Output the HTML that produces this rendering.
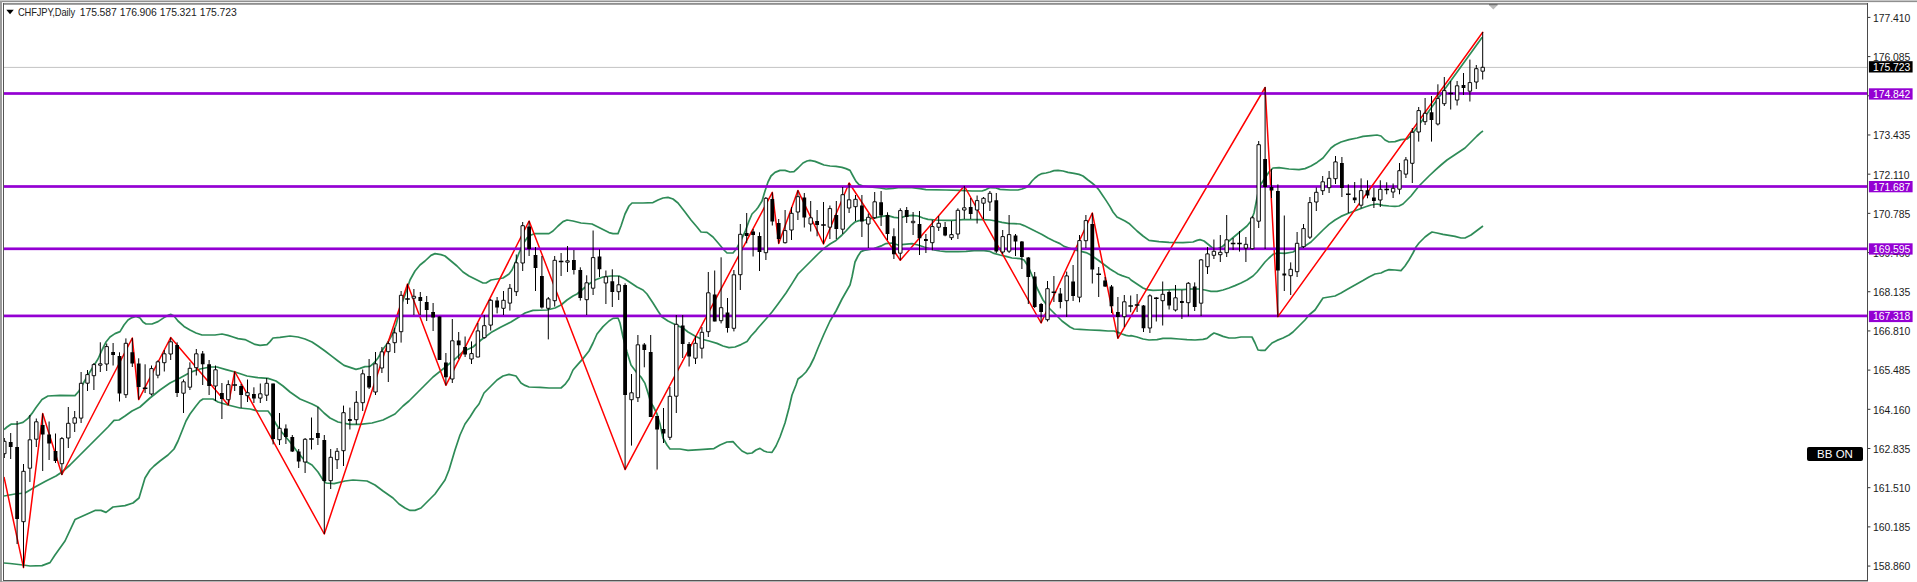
<!DOCTYPE html>
<html><head><meta charset="utf-8"><title>CHFJPY,Daily</title>
<style>
html,body{margin:0;padding:0;background:#fff;}
body{width:1917px;height:582px;position:relative;overflow:hidden;font-family:"Liberation Sans",sans-serif;font-size:10px;color:#000;}
.a{position:absolute;}
.t{position:absolute;left:1873px;font-size:10.4px;line-height:12px;height:12px;white-space:nowrap;letter-spacing:-0.06px;color:#1c1c1c;}
.pl{position:absolute;left:1869px;width:44px;height:11px;color:#fff;font-size:10.4px;line-height:12px;text-indent:4px;white-space:nowrap;letter-spacing:-0.06px;}
</style></head><body>
<!-- frame -->
<div class="a" style="left:0;top:0;width:1917px;height:1px;background:#c6c6c6"></div>
<div class="a" style="left:0;top:1px;width:1917px;height:1px;background:#8f8f8f"></div>
<div class="a" style="left:0;top:2px;width:1917px;height:1px;background:#f1f1f1"></div>
<div class="a" style="left:0;top:1px;width:2px;height:581px;background:#9b9b9b"></div>
<div class="a" style="left:3px;top:3px;width:1865px;height:1px;background:#8e8e8e"></div>
<div class="a" style="left:3px;top:4px;width:1865px;height:1px;background:#a4a4a4"></div>
<div class="a" style="left:3px;top:3px;width:1px;height:578px;background:#555"></div>
<div class="a" style="left:3px;top:580px;width:1865px;height:1px;background:#555"></div>
<div class="a" style="left:2px;top:581px;width:1866px;height:1px;background:#b4b4b4"></div>
<div class="a" style="left:1867px;top:3px;width:1px;height:578px;background:#4a4a4a"></div>

<svg width="1917" height="582" viewBox="0 0 1917 582" style="position:absolute;left:0;top:0">
<defs><clipPath id="cp"><rect x="4" y="5" width="1863" height="575"/></clipPath></defs>
<g clip-path="url(#cp)">
<rect x="4" y="66.9" width="1863" height="1" fill="#c4c4c4"/>
<polyline fill="none" stroke="#2e8b57" stroke-width="1.7" stroke-linejoin="round" points="4.0,429.5 7.0,427.0 11.0,424.2 18.0,423.8 23.0,422.4 28.0,418.4 32.0,413.4 36.0,407.5 42.0,399.5 48.0,396.0 60.0,395.4 75.0,395.6 79.0,391.0 84.0,382.0 88.0,375.0 93.0,367.0 98.0,359.0 102.0,350.0 106.0,342.0 110.0,337.0 115.0,333.6 120.0,331.6 124.0,325.0 128.0,320.0 132.0,317.6 136.0,316.4 140.0,318.0 143.0,322.0 146.0,324.0 152.0,324.0 158.0,321.6 164.0,317.6 168.0,315.4 171.0,314.4 174.0,316.0 178.0,321.0 184.0,326.4 190.0,330.0 196.0,333.0 202.0,335.0 215.0,335.0 222.0,334.0 228.0,335.4 233.0,337.0 238.0,338.6 245.0,339.6 250.0,342.0 255.0,344.4 260.0,345.4 267.0,344.6 270.0,341.6 273.0,338.0 280.0,337.4 290.0,336.0 298.0,337.0 305.0,339.0 312.0,342.0 318.0,346.0 325.0,351.0 332.0,356.4 338.0,361.0 344.0,365.4 350.0,367.4 356.0,369.4 360.0,368.4 365.0,366.6 370.0,366.4 374.0,363.0 378.0,358.0 381.0,353.0 383.0,349.0 386.0,345.4 392.0,335.0 396.0,325.0 399.0,313.0 402.0,303.0 405.0,295.0 407.0,289.0 410.0,280.0 415.0,271.0 420.0,265.0 425.0,261.0 431.0,255.4 435.0,253.6 441.0,254.6 445.0,256.0 451.0,261.0 457.0,266.0 463.0,272.0 469.0,276.0 477.0,280.0 483.0,283.0 486.0,283.0 491.0,280.0 497.0,279.0 503.0,278.0 509.0,274.0 512.0,270.0 516.0,261.0 519.0,253.0 523.0,244.0 527.0,238.0 531.0,235.0 535.0,233.6 549.0,233.6 553.0,231.0 558.0,226.0 563.0,221.6 567.0,220.0 573.0,221.0 581.0,223.0 592.0,224.0 597.0,226.6 603.0,229.6 609.0,232.6 613.0,233.6 618.0,233.6 621.0,226.0 625.0,214.0 629.0,206.0 632.0,203.0 643.0,203.0 653.0,202.6 658.0,200.0 663.0,198.0 668.0,197.4 673.0,199.0 678.0,203.0 685.0,212.0 691.0,220.0 697.0,227.0 701.0,232.0 707.0,232.4 713.0,237.0 719.0,244.0 724.0,250.0 727.0,253.0 733.0,253.0 737.0,248.0 741.0,240.0 745.0,232.0 749.0,221.0 752.0,214.0 756.0,210.0 758.0,207.5 762.0,201.0 765.0,191.0 768.0,182.0 771.0,176.0 775.0,172.4 780.0,170.4 785.0,170.4 790.0,172.0 794.0,171.6 798.0,168.0 803.0,163.0 807.0,161.0 810.0,160.4 815.0,161.4 820.0,163.4 824.0,165.0 830.0,166.0 836.0,166.4 842.0,167.4 846.0,168.6 850.0,170.4 853.0,176.0 856.0,181.4 859.0,184.6 863.0,186.0 870.0,187.0 880.0,188.0 886.0,189.0 893.0,188.4 900.0,187.4 912.0,187.6 920.0,188.6 926.0,189.6 946.0,190.0 960.0,190.4 972.0,191.0 982.0,191.0 986.0,189.6 990.0,187.6 996.0,188.0 1000.0,189.4 1010.0,190.0 1018.0,190.0 1022.0,189.0 1026.0,187.4 1029.0,185.0 1032.0,181.0 1035.0,178.0 1038.0,175.6 1042.0,173.6 1046.0,173.0 1050.0,172.0 1054.0,170.6 1058.0,170.4 1063.0,171.0 1068.0,172.4 1074.0,173.4 1079.0,174.4 1083.0,176.0 1088.0,180.0 1092.0,183.0 1096.0,186.4 1099.0,190.0 1102.0,194.4 1106.0,200.4 1110.0,206.6 1113.0,212.0 1117.0,217.0 1121.0,219.0 1125.0,221.0 1129.0,223.4 1137.0,231.0 1143.0,236.0 1149.0,240.4 1159.0,241.6 1169.0,242.4 1183.0,242.6 1193.0,242.0 1197.0,240.4 1200.0,239.6 1204.0,241.0 1209.0,245.0 1213.0,248.5 1217.0,249.0 1221.0,247.4 1223.0,246.0 1229.0,241.0 1235.0,236.0 1241.0,231.0 1247.0,226.0 1251.0,221.0 1254.0,213.0 1256.0,203.0 1258.0,193.0 1261.0,184.0 1265.0,178.0 1269.0,172.0 1273.0,168.0 1279.0,167.6 1289.0,169.0 1299.0,169.6 1305.0,168.6 1311.0,166.0 1317.0,162.4 1323.0,158.0 1327.0,153.0 1331.0,148.0 1335.0,145.0 1341.0,142.0 1349.0,139.6 1357.0,138.0 1363.0,136.4 1371.0,135.6 1377.0,135.0 1381.0,136.0 1385.0,140.0 1389.0,142.0 1395.0,141.6 1401.0,139.6 1407.0,139.0 1411.0,135.5 1414.0,131.5 1416.7,128.0 1482.2,37.2"/>
<polyline fill="none" stroke="#2e8b57" stroke-width="1.7" stroke-linejoin="round" points="4.0,496.0 15.0,494.0 25.0,493.0 35.0,487.0 46.0,481.0 56.0,476.0 62.0,472.0 70.0,465.0 80.0,455.0 90.0,445.0 100.0,435.0 108.0,427.0 114.0,420.4 119.0,420.0 125.0,416.0 132.0,411.0 140.0,407.0 150.0,398.0 160.0,390.0 170.0,383.0 180.0,378.0 190.0,372.4 200.0,369.0 210.0,367.0 217.0,367.0 226.0,369.6 235.0,372.0 247.0,376.0 258.0,377.6 268.0,378.4 276.0,381.0 283.0,386.0 290.0,392.0 300.0,399.0 312.0,404.0 318.0,407.0 324.0,413.0 330.0,418.0 338.0,422.0 350.0,424.4 360.0,424.4 372.0,423.0 383.0,420.0 395.0,414.0 403.0,406.0 409.0,401.0 421.0,389.0 433.0,377.0 445.0,367.4 455.0,359.0 463.0,351.6 473.0,347.0 481.0,340.0 491.0,332.6 501.0,327.0 511.0,322.0 519.0,317.0 525.0,313.0 533.0,310.4 547.0,310.0 555.0,308.0 561.0,305.0 567.0,300.0 573.0,296.0 577.0,294.0 583.0,289.0 589.0,284.0 595.0,280.0 603.0,277.0 611.0,276.0 619.0,276.0 625.0,279.0 631.0,283.0 637.0,287.0 643.0,290.0 647.0,294.0 651.0,300.0 653.0,303.0 658.0,311.0 662.0,317.0 668.0,321.0 675.0,324.6 683.0,328.0 688.0,332.0 695.0,336.0 701.0,339.0 709.0,341.0 717.0,343.4 723.0,346.0 729.0,347.6 735.0,347.0 741.0,344.6 747.0,341.6 751.0,336.0 756.0,330.6 758.0,328.0 766.0,319.0 772.0,312.0 778.0,304.0 786.0,293.0 792.0,283.6 798.0,274.0 804.0,268.0 812.0,260.0 818.0,254.0 824.0,248.4 830.0,244.0 836.0,240.4 842.0,235.0 846.0,231.0 851.0,225.4 855.0,222.0 859.0,220.6 865.0,220.0 870.0,218.6 876.0,217.6 882.0,216.4 888.0,215.6 894.0,217.4 900.0,218.0 906.0,216.0 912.0,215.4 918.0,216.0 923.0,218.0 928.0,219.4 936.0,220.0 946.0,220.4 952.0,220.4 958.0,220.0 963.0,219.6 972.0,219.6 982.0,219.6 990.0,220.0 996.0,221.0 1002.0,222.4 1008.0,223.4 1014.0,223.6 1020.0,224.0 1024.0,225.6 1030.0,228.4 1036.0,231.6 1042.0,234.4 1048.0,238.0 1054.0,241.0 1060.0,243.6 1064.0,246.4 1069.0,248.0 1075.0,250.0 1081.0,251.4 1086.0,252.6 1090.0,254.6 1094.0,257.3 1098.0,260.0 1102.0,263.0 1106.0,266.0 1110.0,269.0 1114.0,271.4 1118.0,274.0 1122.0,275.6 1126.0,277.0 1129.0,278.0 1131.0,280.0 1137.0,284.0 1143.0,288.0 1147.0,289.6 1153.0,290.4 1163.0,290.0 1173.0,289.6 1183.0,289.6 1191.0,289.0 1199.0,289.0 1205.0,290.0 1211.0,291.4 1217.0,291.4 1223.0,290.0 1229.0,288.0 1235.0,285.6 1241.0,283.0 1247.0,280.0 1253.0,276.0 1257.0,272.0 1261.0,267.0 1265.0,262.0 1269.0,258.0 1273.0,254.4 1277.0,253.0 1285.0,253.4 1293.0,252.0 1297.0,249.4 1301.0,247.6 1305.0,246.0 1311.0,242.0 1317.0,236.0 1323.0,230.0 1329.0,224.4 1335.0,220.0 1341.0,216.4 1349.0,213.0 1357.0,210.0 1365.0,207.0 1371.0,205.0 1377.0,204.0 1383.0,205.4 1389.0,206.0 1395.0,206.4 1399.0,206.0 1403.0,204.0 1407.0,200.0 1411.0,196.0 1415.0,191.0 1419.0,186.0 1423.0,182.0 1429.0,176.0 1435.0,170.4 1441.0,165.0 1447.0,160.0 1453.0,156.0 1459.0,152.0 1465.0,148.0 1469.0,144.0 1473.0,140.0 1477.0,136.0 1481.0,132.4 1483.0,131.0"/>
<polyline fill="none" stroke="#2e8b57" stroke-width="1.7" stroke-linejoin="round" points="4.0,563.0 10.0,563.5 23.0,565.0 30.0,566.0 42.0,565.6 50.0,562.6 55.0,555.0 65.0,541.0 75.0,519.6 85.0,515.0 95.0,510.4 101.0,510.4 106.0,512.4 113.0,507.0 125.0,505.6 133.0,503.0 139.0,498.0 145.0,478.0 150.0,470.0 154.0,466.0 160.0,461.0 168.0,455.0 174.0,449.0 178.0,441.0 182.0,431.0 186.0,421.0 190.0,414.0 196.0,406.0 200.0,401.0 203.0,399.0 213.0,399.0 218.0,402.0 228.0,405.0 240.0,408.0 250.0,409.0 258.0,411.0 268.0,411.0 271.0,415.0 276.0,424.0 280.0,430.0 285.0,436.0 290.0,442.0 296.0,450.0 300.0,455.0 305.0,461.0 312.0,465.0 318.0,472.0 322.0,478.4 326.0,483.0 334.0,483.6 345.0,481.0 353.0,480.0 367.0,481.0 375.0,485.0 383.0,491.0 393.0,498.0 399.0,504.0 405.0,508.0 410.0,510.4 415.0,510.4 421.0,508.0 427.0,502.0 435.0,494.0 445.0,480.0 449.0,470.0 455.0,450.0 460.0,435.0 465.0,424.0 470.0,417.0 475.0,409.0 479.0,404.0 484.0,393.0 491.0,386.0 497.0,380.0 503.0,376.0 509.0,374.4 516.0,376.0 521.0,383.0 525.0,385.4 529.0,387.0 540.0,387.4 549.0,388.0 561.0,388.0 565.0,384.4 569.0,379.0 573.0,370.0 577.0,365.4 583.0,358.6 589.0,351.0 593.0,343.0 597.0,334.0 603.0,326.6 609.0,321.0 613.0,318.4 618.0,318.0 620.0,323.0 623.0,337.0 627.0,352.0 631.0,365.0 637.0,373.0 641.0,377.0 645.0,383.4 648.0,393.0 651.0,403.0 653.0,406.0 657.0,414.0 660.0,424.0 663.0,438.0 667.0,445.0 670.0,449.0 680.0,449.0 688.0,450.4 700.0,449.6 714.0,448.6 720.0,445.0 727.0,442.0 733.0,441.6 737.0,446.0 742.0,451.0 747.0,453.6 752.0,453.0 756.0,450.0 760.0,448.4 764.0,451.0 767.0,452.0 772.0,452.4 776.0,446.0 780.0,437.0 785.0,423.0 789.0,408.0 792.0,395.0 796.0,385.0 798.0,379.0 802.0,376.0 806.0,372.0 810.0,366.0 814.0,358.0 818.0,348.0 824.0,334.0 830.0,321.0 836.0,311.0 842.0,299.0 846.0,292.0 850.0,285.0 852.0,277.0 854.0,267.0 855.0,262.0 858.0,256.0 861.0,251.6 864.0,250.4 874.0,248.6 882.0,245.6 886.0,243.6 892.0,243.0 898.0,245.0 904.0,244.4 912.0,243.6 918.0,245.0 924.0,247.0 934.0,250.0 940.0,251.0 946.0,251.6 958.0,251.6 966.0,251.4 974.0,250.6 984.0,250.6 990.0,251.4 994.0,253.4 1000.0,255.0 1006.0,256.4 1012.0,258.0 1020.0,258.6 1024.0,260.0 1028.0,266.0 1031.0,273.0 1034.0,280.0 1037.0,288.0 1040.0,294.0 1043.0,300.0 1046.0,304.0 1050.0,309.0 1054.0,313.0 1058.0,317.0 1062.0,321.0 1066.0,324.0 1070.0,327.0 1074.0,329.0 1080.0,329.4 1090.0,330.0 1100.0,330.4 1108.0,331.0 1114.0,331.0 1118.0,332.4 1122.0,334.0 1126.0,335.4 1129.0,336.0 1131.0,335.6 1137.0,337.0 1143.0,339.0 1149.0,340.0 1157.0,339.6 1163.0,338.4 1171.0,338.4 1179.0,339.0 1187.0,339.6 1195.0,340.0 1203.0,339.4 1207.0,338.4 1211.0,335.0 1214.0,333.0 1218.0,334.4 1223.0,336.4 1229.0,338.0 1235.0,338.0 1241.0,337.0 1247.0,337.0 1252.0,337.0 1255.0,343.0 1258.0,350.0 1261.0,350.4 1265.0,350.4 1269.0,346.0 1272.0,343.0 1277.0,340.4 1283.0,338.0 1289.0,335.0 1293.0,332.0 1299.0,326.0 1305.0,320.0 1309.0,315.0 1315.0,310.0 1319.0,304.0 1323.0,298.0 1329.0,297.0 1335.0,296.0 1341.0,293.0 1347.0,289.6 1355.0,285.0 1363.0,280.6 1369.0,277.0 1375.0,274.0 1381.0,273.0 1385.0,271.0 1389.0,269.6 1395.0,270.0 1401.0,270.6 1405.0,266.0 1409.0,260.0 1413.0,253.0 1416.0,247.0 1419.0,243.0 1421.0,241.0 1425.0,237.0 1429.0,234.0 1432.0,232.0 1437.0,233.0 1443.0,234.4 1449.0,235.4 1455.0,236.4 1461.0,238.0 1465.0,238.0 1471.0,235.0 1475.0,232.0 1479.0,229.0 1483.0,226.0"/>
<polyline fill="none" stroke="#ff0000" stroke-width="1.5" stroke-linejoin="round" points="4.0,477.0 23.5,567.6 42.7,413.5 61.9,474.5 132.3,338.0 138.7,399.6 170.7,337.5 228.3,405.0 234.7,371.5 324.3,534.0 407.5,284.0 445.9,385.3 529.1,221.0 625.1,469.6 772.3,192.4 778.7,243.5 797.9,190.4 823.5,244.0 849.1,183.0 900.3,260.3 964.3,186.0 1041.1,323.0 1092.3,213.0 1117.9,338.3 1265.1,87.5 1277.9,316.6"/>
<rect x="4" y="92.15" width="1864" height="2.7" fill="#9400d3"/>
<rect x="4" y="185.15" width="1864" height="2.7" fill="#9400d3"/>
<rect x="4" y="247.45" width="1864" height="2.7" fill="#9400d3"/>
<rect x="4" y="314.55" width="1864" height="2.7" fill="#9400d3"/>
<polyline fill="none" stroke="#ff0000" stroke-width="1.5" stroke-linecap="round" points="1277.9,316.6 1482.7,32.3"/>
<path d="M4.3 438.0V458.0M10.7 433.0V459.0M17.1 421.0V544.0M23.5 464.0V567.6M29.9 415.0V482.0M36.3 418.5V447.0M42.7 413.5V471.0M49.1 421.5V460.0M55.5 433.5V463.0M61.9 437.0V475.0M68.3 407.0V448.0M74.7 411.0V432.0M81.1 372.0V423.0M87.5 370.0V391.0M93.9 363.0V390.0M100.3 342.3V372.0M106.7 343.5V371.0M113.1 343.0V365.5M119.5 352.3V401.5M125.9 338.4V398.0M132.3 338.0V367.0M138.7 358.3V399.5M145.1 364.3V393.0M151.5 365.5V395.5M157.9 360.3V378.3M164.3 350.0V371.5M170.7 337.5V360.0M177.1 342.3V397.0M183.5 379.5V413.0M189.9 362.3V390.0M196.3 349.0V375.5M202.7 351.0V385.0M209.1 360.0V395.0M215.5 365.5V401.0M221.9 383.0V419.0M228.3 380.3V405.0M234.7 371.5V391.0M241.1 384.0V408.0M247.5 379.5V402.0M253.9 387.3V403.0M260.3 383.5V403.0M266.7 378.0V401.0M273.1 383.6V444.4M279.5 413.0V445.0M285.9 424.4V444.0M292.3 435.0V452.0M298.7 449.0V468.0M305.1 438.0V473.0M311.5 417.5V449.5M317.9 407.0V445.0M324.3 435.0V534.0M330.7 449.0V489.0M337.1 448.0V469.0M343.5 405.6V466.0M349.9 407.6V429.5M356.3 391.0V424.4M362.7 369.5V411.0M369.1 359.0V389.0M375.5 352.0V395.0M381.9 347.0V373.0M388.3 341.4V382.0M394.7 328.0V353.0M401.1 291.0V342.6M407.5 284.0V304.0M413.9 289.0V315.0M420.3 292.0V315.0M426.7 296.0V321.0M433.1 303.0V331.0M439.5 316.6V360.0M445.9 353.0V385.3M452.3 319.0V383.0M458.7 332.0V359.0M465.1 336.5V357.0M471.5 341.4V364.0M477.9 323.0V357.3M484.3 315.0V338.5M490.7 299.0V330.6M497.1 297.0V313.4M503.5 291.0V315.0M509.9 284.0V310.6M516.3 254.5V296.0M522.7 222.0V271.0M529.1 221.0V256.0M535.5 247.0V291.0M541.9 256.0V308.6M548.3 297.0V339.4M554.7 256.0V306.6M561.1 253.0V276.0M567.5 246.0V272.0M573.9 250.0V274.5M580.3 267.3V300.6M586.7 275.3V315.0M593.1 230.5V295.0M599.5 249.3V277.0M605.9 270.5V304.0M612.3 269.3V307.0M618.7 276.0V300.0M625.1 283.3V469.6M631.5 374.0V445.6M637.9 335.0V402.0M644.3 343.0V367.3M650.7 335.0V417.0M657.1 416.0V469.5M663.5 408.0V443.0M669.9 387.0V440.0M676.3 315.0V413.0M682.7 315.0V358.0M689.1 342.0V366.5M695.5 336.0V364.0M701.9 327.0V358.5M708.3 272.0V337.0M714.7 270.5V321.4M721.1 257.3V323.4M727.5 298.0V332.6M733.9 270.0V331.4M740.3 224.0V290.0M746.7 213.0V243.3M753.1 229.0V256.5M759.5 232.3V271.0M765.9 197.0V260.0M772.3 192.4V225.5M778.7 219.0V243.5M785.1 210.0V243.5M791.5 207.0V240.0M797.9 190.4V220.0M804.3 193.0V227.5M810.7 201.0V231.5M817.1 210.0V236.3M823.5 202.0V244.0M829.9 205.5V239.0M836.3 201.0V239.0M842.7 187.0V234.0M849.1 183.0V213.0M855.5 195.0V221.0M861.9 195.0V237.0M868.3 213.5V248.0M874.7 192.0V219.0M881.1 191.0V226.0M887.5 212.3V240.0M893.9 228.3V259.0M900.3 208.3V260.3M906.7 207.0V223.0M913.1 212.0V235.0M919.5 211.0V255.0M925.9 234.0V253.0M932.3 220.0V250.3M938.7 216.0V231.0M945.1 222.0V236.3M951.5 221.0V240.0M957.9 208.3V239.0M964.3 186.0V219.0M970.7 198.0V219.0M977.1 195.5V223.5M983.5 197.0V219.0M989.9 191.0V211.0M996.3 193.0V253.0M1002.7 230.0V254.0M1009.1 215.0V253.0M1015.5 234.0V256.0M1021.9 241.0V269.0M1028.3 257.0V304.0M1034.7 272.0V308.0M1041.1 303.0V323.0M1047.5 281.0V321.5M1053.9 276.0V302.0M1060.3 288.0V308.3M1066.7 271.6V317.0M1073.1 265.0V301.0M1079.5 235.0V302.3M1085.9 215.0V248.0M1092.3 213.0V283.5M1098.7 267.0V297.0M1105.1 277.0V287.0M1111.5 285.0V313.0M1117.9 297.0V338.3M1124.3 295.0V327.0M1130.7 295.5V312.3M1137.1 294.0V312.0M1143.5 305.0V332.0M1149.9 294.3V333.0M1156.3 297.0V321.5M1162.7 281.5V325.5M1169.1 290.3V309.5M1175.5 285.0V311.5M1181.9 290.0V319.0M1188.3 282.0V316.3M1194.7 282.4V311.0M1201.1 259.0V316.0M1207.5 247.0V274.0M1213.9 239.5V259.0M1220.3 235.0V262.0M1226.7 215.0V257.0M1233.1 238.0V250.0M1239.5 231.0V251.6M1245.9 237.0V262.0M1252.3 216.0V249.5M1258.7 141.0V228.0M1265.1 87.0V249.0M1271.5 169.0V198.0M1277.9 184.4V317.0M1284.3 215.5V291.0M1290.7 262.4V295.0M1297.1 232.0V277.0M1303.5 224.0V248.0M1309.9 197.0V239.0M1316.3 187.5V211.0M1322.7 176.0V195.0M1329.1 171.0V193.0M1335.5 156.0V184.0M1341.9 157.0V197.0M1348.3 184.3V213.0M1354.7 182.0V203.0M1361.1 178.4V208.3M1367.5 180.3V198.3M1373.9 188.0V208.0M1380.3 180.3V207.0M1386.7 182.3V194.3M1393.1 183.5V198.0M1399.5 163.0V194.3M1405.9 157.0V178.0M1412.3 128.0V183.0M1418.7 107.0V141.6M1425.1 98.0V125.0M1431.5 96.0V141.6M1437.9 84.3V125.5M1444.3 77.0V106.0M1450.7 81.0V109.5M1457.1 81.0V105.5M1463.5 73.0V95.0M1469.9 59.6V101.5M1476.3 65.0V89.0M1482.7 32.0V79.5" stroke="#000" stroke-width="1" fill="none"/>
<path d="M8.8 442.0h3.8V447.0h-3.8zM15.2 447.0h3.8V519.0h-3.8zM40.8 425.0h3.8V434.4h-3.8zM47.2 434.4h3.8V443.5h-3.8zM53.6 451.0h3.8V461.0h-3.8zM111.2 352.0h3.8V355.0h-3.8zM117.6 356.0h3.8V393.5h-3.8zM130.4 352.3h3.8V363.5h-3.8zM136.8 363.5h3.8V387.0h-3.8zM142.8 387.6h4.6v1.5h-4.6zM175.2 345.0h3.8V393.0h-3.8zM200.8 353.5h3.8V364.3h-3.8zM207.2 364.3h3.8V386.0h-3.8zM220.0 393.0h3.8V399.0h-3.8zM232.4 384.2h4.6v1.5h-4.6zM239.2 386.0h3.8V395.0h-3.8zM252.0 394.0h3.8V398.4h-3.8zM271.2 383.6h3.8V439.0h-3.8zM284.0 428.4h3.8V437.0h-3.8zM290.4 437.0h3.8V451.6h-3.8zM296.8 451.6h3.8V461.5h-3.8zM309.2 438.2h4.6v1.5h-4.6zM316.0 433.0h3.8V438.0h-3.8zM322.4 440.0h3.8V481.0h-3.8zM348.0 419.0h3.8V421.0h-3.8zM367.2 376.0h3.8V387.5h-3.8zM405.2 298.2h4.6v1.5h-4.6zM418.4 297.0h3.8V301.0h-3.8zM424.8 302.0h3.8V310.0h-3.8zM431.2 312.0h3.8V317.4h-3.8zM437.6 316.6h3.8V360.0h-3.8zM444.0 362.5h3.8V377.3h-3.8zM456.8 340.5h3.8V345.3h-3.8zM463.2 347.0h3.8V354.5h-3.8zM495.2 300.6h3.8V307.4h-3.8zM527.2 226.6h3.8V249.0h-3.8zM533.6 255.0h3.8V268.0h-3.8zM540.0 276.0h3.8V307.4h-3.8zM558.8 260.8h4.6v1.5h-4.6zM572.0 260.0h3.8V270.0h-3.8zM578.4 270.0h3.8V298.0h-3.8zM597.6 256.5h3.8V269.3h-3.8zM610.4 281.3h3.8V292.0h-3.8zM623.2 285.0h3.8V395.0h-3.8zM642.4 344.5h3.8V350.0h-3.8zM648.8 352.0h3.8V417.0h-3.8zM655.2 416.0h3.8V429.6h-3.8zM661.6 429.0h3.8V433.6h-3.8zM680.8 325.4h3.8V344.0h-3.8zM687.2 344.0h3.8V356.5h-3.8zM712.8 294.5h3.8V321.4h-3.8zM725.6 312.6h3.8V328.0h-3.8zM744.8 233.0h3.8V236.0h-3.8zM751.2 231.5h3.8V235.0h-3.8zM757.6 236.0h3.8V252.0h-3.8zM770.4 199.0h3.8V221.5h-3.8zM776.8 223.0h3.8V239.0h-3.8zM802.4 197.6h3.8V217.5h-3.8zM815.2 221.0h3.8V225.0h-3.8zM821.2 224.2h4.6v1.5h-4.6zM834.4 215.0h3.8V229.0h-3.8zM860.0 205.5h3.8V221.5h-3.8zM879.2 202.3h3.8V215.5h-3.8zM885.6 215.0h3.8V234.0h-3.8zM892.0 236.3h3.8V254.3h-3.8zM904.8 210.0h3.8V217.0h-3.8zM917.6 224.0h3.8V238.3h-3.8zM924.0 239.0h3.8V241.0h-3.8zM943.2 227.0h3.8V235.5h-3.8zM968.8 207.0h3.8V214.0h-3.8zM994.4 200.3h3.8V251.5h-3.8zM1013.6 235.5h3.8V241.5h-3.8zM1020.0 241.5h3.8V257.0h-3.8zM1026.4 257.6h3.8V277.0h-3.8zM1032.8 276.4h3.8V307.0h-3.8zM1039.2 304.0h3.8V312.0h-3.8zM1051.6 291.6h4.6v1.5h-4.6zM1058.4 293.5h3.8V302.0h-3.8zM1071.2 281.6h3.8V296.0h-3.8zM1090.4 224.0h3.8V269.6h-3.8zM1096.4 273.6h4.6v1.5h-4.6zM1103.2 280.4h3.8V286.4h-3.8zM1109.6 286.4h3.8V306.3h-3.8zM1116.0 312.0h3.8V317.0h-3.8zM1128.4 305.2h4.6v1.5h-4.6zM1134.8 304.2h4.6v1.5h-4.6zM1141.6 305.5h3.8V328.3h-3.8zM1154.0 297.6h4.6v1.5h-4.6zM1167.2 292.0h3.8V305.5h-3.8zM1180.0 301.0h3.8V303.0h-3.8zM1192.8 286.4h3.8V307.0h-3.8zM1230.8 242.8h4.6v1.5h-4.6zM1237.2 242.8h4.6v1.5h-4.6zM1263.2 159.0h3.8V187.0h-3.8zM1269.6 187.0h3.8V190.4h-3.8zM1276.0 191.0h3.8V270.4h-3.8zM1282.4 273.6h3.8V275.6h-3.8zM1340.0 163.0h3.8V188.0h-3.8zM1346.0 193.6h4.6v1.5h-4.6zM1352.8 197.5h3.8V200.3h-3.8zM1365.6 190.3h3.8V195.5h-3.8zM1372.0 197.5h3.8V201.0h-3.8zM1384.4 188.8h4.6v1.5h-4.6zM1429.6 112.3h3.8V120.0h-3.8zM1448.4 92.8h4.6v1.5h-4.6zM1461.6 85.0h3.8V88.0h-3.8z" fill="#000"/>
<path d="M2.6 441.3h3.4V453.7h-3.4zM21.8 471.3h3.4V521.7h-3.4zM28.2 439.8h3.4V468.2h-3.4zM34.6 421.8h3.4V439.2h-3.4zM60.2 438.6h3.4V463.7h-3.4zM66.6 423.3h3.4V438.0h-3.4zM73.0 417.8h3.4V423.2h-3.4zM79.4 383.3h3.4V418.1h-3.4zM85.8 374.6h3.4V383.2h-3.4zM92.2 364.6h3.4V375.7h-3.4zM98.6 363.8h3.4V365.2h-3.4zM105.0 346.6h3.4V364.0h-3.4zM124.2 343.3h3.4V394.7h-3.4zM149.8 368.6h3.4V394.0h-3.4zM156.2 361.8h3.4V375.2h-3.4zM162.6 353.8h3.4V362.7h-3.4zM169.0 341.8h3.4V354.0h-3.4zM181.8 381.8h3.4V393.2h-3.4zM188.2 368.3h3.4V387.2h-3.4zM194.6 353.8h3.4V367.7h-3.4zM213.8 369.8h3.4V386.0h-3.4zM226.6 384.6h3.4V399.7h-3.4zM245.8 392.7h3.4V395.7h-3.4zM258.6 393.8h3.4V398.1h-3.4zM265.0 383.3h3.4V395.2h-3.4zM277.8 428.3h3.4V439.7h-3.4zM303.4 439.3h3.4V462.0h-3.4zM329.0 457.3h3.4V480.7h-3.4zM335.4 451.3h3.4V459.7h-3.4zM341.8 412.7h3.4V450.7h-3.4zM354.6 402.3h3.4V419.7h-3.4zM361.0 373.8h3.4V402.7h-3.4zM373.8 363.8h3.4V392.0h-3.4zM380.2 351.8h3.4V368.0h-3.4zM386.6 343.7h3.4V351.7h-3.4zM393.0 332.9h3.4V342.7h-3.4zM399.4 295.3h3.4V331.7h-3.4zM412.2 296.3h3.4V298.2h-3.4zM450.6 340.8h3.4V379.0h-3.4zM469.8 353.6h3.4V359.0h-3.4zM476.2 330.9h3.4V357.0h-3.4zM482.6 325.7h3.4V337.7h-3.4zM489.0 300.3h3.4V325.1h-3.4zM501.8 300.3h3.4V308.3h-3.4zM508.2 288.3h3.4V303.1h-3.4zM514.6 262.8h3.4V291.7h-3.4zM521.0 225.7h3.4V263.0h-3.4zM546.6 298.9h3.4V308.3h-3.4zM553.0 260.3h3.4V300.7h-3.4zM565.8 260.8h3.4V262.2h-3.4zM585.0 282.8h3.4V299.7h-3.4zM591.4 257.6h3.4V288.2h-3.4zM604.2 276.8h3.4V283.0h-3.4zM617.0 284.8h3.4V291.7h-3.4zM629.8 392.8h3.4V399.7h-3.4zM636.2 344.8h3.4V397.7h-3.4zM668.2 396.3h3.4V437.3h-3.4zM674.6 324.3h3.4V396.2h-3.4zM693.8 343.3h3.4V358.2h-3.4zM700.2 332.3h3.4V348.2h-3.4zM706.6 292.8h3.4V331.7h-3.4zM719.4 307.7h3.4V320.7h-3.4zM732.2 274.8h3.4V328.3h-3.4zM738.6 234.3h3.4V274.7h-3.4zM764.2 198.3h3.4V252.7h-3.4zM783.4 230.6h3.4V242.7h-3.4zM789.8 213.3h3.4V230.0h-3.4zM796.2 196.7h3.4V212.0h-3.4zM809.0 217.8h3.4V224.0h-3.4zM828.2 208.6h3.4V227.2h-3.4zM841.0 194.7h3.4V229.2h-3.4zM847.4 199.8h3.4V208.0h-3.4zM853.8 199.3h3.4V206.7h-3.4zM866.6 217.3h3.4V224.0h-3.4zM873.0 201.8h3.4V217.7h-3.4zM898.6 210.6h3.4V253.2h-3.4zM911.4 221.3h3.4V222.7h-3.4zM930.6 226.6h3.4V242.7h-3.4zM937.0 223.3h3.4V227.2h-3.4zM949.8 234.6h3.4V237.7h-3.4zM956.2 210.3h3.4V234.0h-3.4zM962.6 207.8h3.4V210.0h-3.4zM975.4 200.6h3.4V210.0h-3.4zM981.8 198.3h3.4V203.2h-3.4zM988.2 193.3h3.4V202.0h-3.4zM1001.0 236.6h3.4V252.0h-3.4zM1007.4 234.6h3.4V251.2h-3.4zM1045.8 288.7h3.4V319.7h-3.4zM1065.0 275.9h3.4V300.7h-3.4zM1077.8 240.6h3.4V297.2h-3.4zM1084.2 220.6h3.4V240.7h-3.4zM1122.6 301.8h3.4V316.7h-3.4zM1148.2 295.8h3.4V328.0h-3.4zM1161.0 294.3h3.4V300.7h-3.4zM1173.8 297.8h3.4V310.0h-3.4zM1186.6 283.3h3.4V302.7h-3.4zM1199.4 259.9h3.4V303.2h-3.4zM1205.8 253.9h3.4V266.7h-3.4zM1212.2 251.3h3.4V255.3h-3.4zM1218.6 252.3h3.4V254.7h-3.4zM1225.0 239.8h3.4V252.7h-3.4zM1244.2 244.3h3.4V248.1h-3.4zM1250.6 217.8h3.4V248.7h-3.4zM1257.0 144.7h3.4V221.2h-3.4zM1289.0 269.3h3.4V275.7h-3.4zM1295.4 243.3h3.4V271.7h-3.4zM1301.8 228.6h3.4V246.7h-3.4zM1308.2 202.6h3.4V237.2h-3.4zM1314.6 192.3h3.4V202.0h-3.4zM1321.0 181.8h3.4V190.7h-3.4zM1327.4 178.3h3.4V187.7h-3.4zM1333.8 161.9h3.4V178.7h-3.4zM1359.4 190.6h3.4V205.2h-3.4zM1378.6 189.3h3.4V200.0h-3.4zM1391.4 188.3h3.4V192.0h-3.4zM1397.8 170.7h3.4V189.2h-3.4zM1404.2 159.9h3.4V174.1h-3.4zM1410.6 132.3h3.4V163.3h-3.4zM1417.0 110.6h3.4V132.0h-3.4zM1423.4 113.3h3.4V121.7h-3.4zM1436.2 98.6h3.4V124.0h-3.4zM1442.6 90.6h3.4V103.7h-3.4zM1455.4 85.8h3.4V100.0h-3.4zM1468.2 82.6h3.4V91.2h-3.4zM1474.6 68.7h3.4V82.0h-3.4zM1481.0 67.3h3.4V71.2h-3.4z" fill="#fff" stroke="#000" stroke-width="0.95"/>
</g>
<rect x="1868" y="16.90" width="2.4" height="1" fill="#333"/>
<rect x="1868" y="56.09" width="2.4" height="1" fill="#333"/>
<rect x="1868" y="95.28" width="2.4" height="1" fill="#333"/>
<rect x="1868" y="134.47" width="2.4" height="1" fill="#333"/>
<rect x="1868" y="173.66" width="2.4" height="1" fill="#333"/>
<rect x="1868" y="212.85" width="2.4" height="1" fill="#333"/>
<rect x="1868" y="252.04" width="2.4" height="1" fill="#333"/>
<rect x="1868" y="291.23" width="2.4" height="1" fill="#333"/>
<rect x="1868" y="330.42" width="2.4" height="1" fill="#333"/>
<rect x="1868" y="369.61" width="2.4" height="1" fill="#333"/>
<rect x="1868" y="408.80" width="2.4" height="1" fill="#333"/>
<rect x="1868" y="447.99" width="2.4" height="1" fill="#333"/>
<rect x="1868" y="487.18" width="2.4" height="1" fill="#333"/>
<rect x="1868" y="526.37" width="2.4" height="1" fill="#333"/>
<rect x="1868" y="565.56" width="2.4" height="1" fill="#333"/>
<polygon points="1488.8,5 1497.8,5 1493.3,9.4" fill="#b9b9b9"/>
<rect x="1489" y="4" width="8.6" height="1.2" fill="#6e6e6e"/>
</svg>
<svg class="a" style="left:0;top:0" width="20" height="20"><polygon points="6.3,9.8 13.8,9.8 10.05,14.2" fill="#000"/></svg>
<div class="a" id="hdr1" style="left:17.6px;top:5.6px;font-size:10.4px;line-height:14px;white-space:pre;letter-spacing:-0.15px;transform:scaleX(0.9);transform-origin:0 0;color:#222">CHFJPY,Daily</div>
<div class="a" id="hdr2" style="left:79.8px;top:5.6px;font-size:10.4px;line-height:14px;white-space:pre;letter-spacing:-0.1px;word-spacing:0.34px;color:#222">175.587 176.906 175.321 175.723</div>
<div class="t" style="top:13.0px">177.410</div>
<div class="t" style="top:52.0px">176.085</div>
<div class="t" style="top:130.0px">173.435</div>
<div class="t" style="top:170.0px">172.110</div>
<div class="t" style="top:209.0px">170.785</div>
<div class="t" style="top:248.0px">169.460</div>
<div class="t" style="top:287.0px">168.135</div>
<div class="t" style="top:326.0px">166.810</div>
<div class="t" style="top:365.0px">165.485</div>
<div class="t" style="top:405.0px">164.160</div>
<div class="t" style="top:444.0px">162.835</div>
<div class="t" style="top:483.0px">161.510</div>
<div class="t" style="top:522.0px">160.185</div>
<div class="t" style="top:561.0px">158.860</div>
<svg class="a" style="left:0;top:0" width="1917" height="582"><rect x="1868.9" y="88.3" width="43.7" height="11.3" fill="#9400d3"/><rect x="1868.9" y="181.0" width="43.7" height="11.3" fill="#9400d3"/><rect x="1868.9" y="243.3" width="43.7" height="11.3" fill="#9400d3"/><rect x="1868.9" y="310.8" width="43.7" height="11.3" fill="#9400d3"/><rect x="1868.9" y="61.2" width="43.7" height="11.3" fill="#000"/></svg>
<div class="pl" style="top:89px">174.842</div>
<div class="pl" style="top:182px">171.687</div>
<div class="pl" style="top:244px">169.595</div>
<div class="pl" style="top:311px">167.318</div>
<div class="pl" style="top:62px">175.723</div>
<div class="a" style="left:1807px;top:447px;width:56px;height:14px;background:#000;border-radius:2px;color:#fff;font-size:11.5px;line-height:14px;text-align:center;white-space:nowrap">BB ON</div>
</body></html>
